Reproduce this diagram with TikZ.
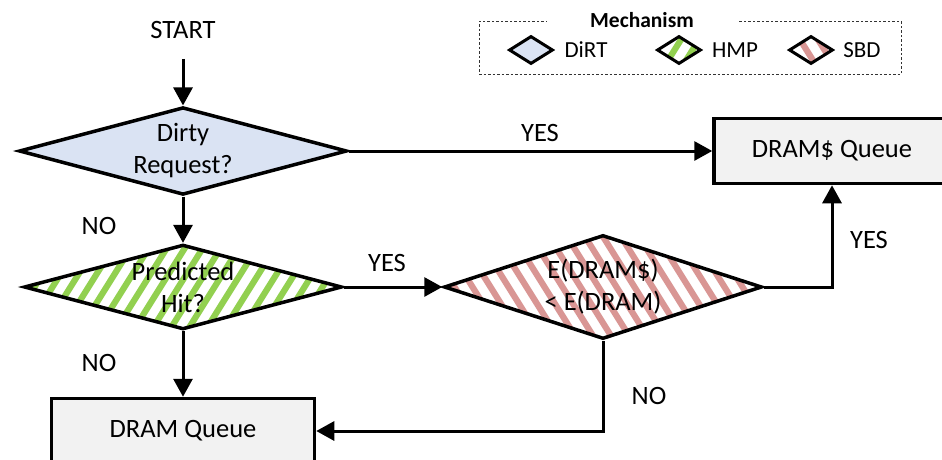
\documentclass[tikz,border=0pt]{standalone}
\usepackage{fontspec}
\setmainfont{Carlito}
\usetikzlibrary{shapes.geometric,arrows.meta,calc}
\definecolor{dirtblue}{HTML}{DAE3F3}
\definecolor{hmpgreen}{HTML}{92D050}
\definecolor{sbdpink}{HTML}{D99694}
\definecolor{boxgray}{HTML}{F2F2F2}
\newcommand\mainsz{\fontsize{26.5}{32}\selectfont}
\newcommand\legsz{\fontsize{23}{28}\selectfont}
\tikzset{
  dia/.style={diamond, draw=black, line width=3.5pt, inner sep=0pt, aspect=3,
    align=center, font=\mainsz},
  legdia/.style={diamond, draw=black, line width=3pt, inner sep=0pt,
    minimum width=44, minimum height=28},
  hmpfill/.style={fill=white, path picture={
      \foreach \i in {-18,...,18}{
        \draw[hmpgreen, line width=6.2pt]
          ($(path picture bounding box.center)+(\i*18-60,60)$) -- ++(75,-120);
      }}},
  sbdfill/.style={fill=white, path picture={
      \foreach \i in {-18,...,18}{
        \draw[sbdpink, line width=6.2pt]
          ($(path picture bounding box.center)+(\i*18-60,-60)$) -- ++(75,120);
      }}},
  qbox/.style={rectangle, draw=black, line width=3.5pt, fill=boxgray,
    minimum width=236, minimum height=65, font=\mainsz},
  lbl/.style={font=\mainsz, inner sep=0pt},
  legtxt/.style={font=\legsz, inner sep=0pt},
  arr/.style={line width=3pt, -{Triangle[length=18pt,width=19pt]}}
}
\begin{document}
\begin{tikzpicture}[x=1pt, y=-1pt]
\useasboundingbox (0,0) rectangle (942,459);

% legend
\node[draw=black!80, dashed, dash pattern=on 2.5pt off 2pt, line width=1pt,
  minimum width=422, minimum height=53, inner sep=0pt] (legend) at (690,47.5) {};
\node[fill=white, minimum width=190, inner sep=1pt,
  font=\bfseries\fontsize{21.5}{26}\selectfont] (legtitle) at (642,20) {Mechanism};
\node[legdia, fill=dirtblue] (ldirt) at (531,50) {};
\node[legdia, hmpfill] (lhmp) at (679,50) {};
\node[legdia, sbdfill] (lsbd) at (811,50) {};
\node[legtxt] (tdirt) at (586,50) {DiRT};
\node[legtxt] (thmp) at (735,50) {HMP};
\node[legtxt] (tsbd) at (862,50) {SBD};

% main nodes
\node[lbl] (start) at (183,30) {START};
\node[dia, fill=dirtblue, minimum width=328, minimum height=84] (dirty) at (183,151) {Dirty\\Request?};
\node[dia, hmpfill, minimum width=318, minimum height=84] (pred) at (183,287) {Predicted\\Hit?};
\node[dia, sbdfill, minimum width=318, minimum height=104] (sbd) at (603,287) {E(DRAM\$)\\< E(DRAM)};
\node[qbox] (dramc) at (832,151) {DRAM\$ Queue};
\node[qbox, minimum width=263] (dram) at (183,431) {DRAM Queue};

% labels
\node[lbl] (yes1) at (540,133) {YES};
\node[lbl] (no1) at (99,226) {NO};
\node[lbl] (yes2) at (387,263) {YES};
\node[lbl] (no2) at (99,363) {NO};
\node[lbl] (yes3) at (869,240) {YES};
\node[lbl] (no3) at (649,396) {NO};

% connectors
\draw[arr, shorten <=20pt] (start.south) -- (dirty.north);
\draw[arr] (dirty.east) -- (dramc.west);
\draw[arr] (dirty.south) -- (pred.north);
\draw[arr] (pred.east) -- (sbd.west);
\draw[arr] (sbd.east) -| (dramc.south);
\draw[arr] (sbd.south) |- (dram.east);
\draw[arr] (pred.south) -- (dram.north);
\end{tikzpicture}
\end{document}
